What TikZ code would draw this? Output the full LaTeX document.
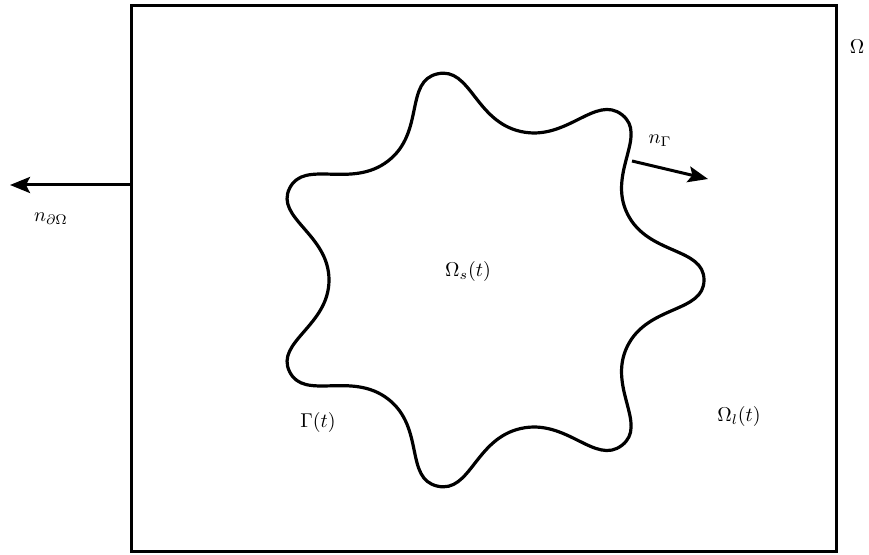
\documentclass[tikz,border=0pt]{standalone}
\usetikzlibrary{arrows.meta}
\begin{document}
\begin{tikzpicture}[x=0.5pt,y=-0.5pt,
  frame/.style={line width=1.5pt},
  iface/.style={line width=1.6pt,line join=round},
  normal/.style={line width=1.5pt,-{Stealth[length=10pt,width=8pt,inset=2pt]}},
  lbl/.style={inner sep=0pt}]
\useasboundingbox (0,0) rectangle (869,555);
\draw[frame] (131,6) rectangle (836,552);
\coordinate (left) at (131,185);
\coordinate (ltip) at (10,185);
\draw[normal] (left) -- (ltip);
\draw[iface,variable=\t,samples=14,domain=0:334.2857]
  plot[smooth cycle,tension=0.9] ({486+(187.5+30.5*cos(7*\t))*cos(\t)},{280-0.97*(187.5+30.5*cos(7*\t))*sin(\t)});
\coordinate (gs) at (632,161);
\coordinate (gtip) at (708,179);
\draw[normal] (gs) -- (gtip);
\node[lbl] (om) at (857,47) {$\Omega$};
\node[lbl] (ndo) at (51,219) {$n_{\partial\Omega}$};
\node[lbl] (ng) at (660,141) {$n_\Gamma$};
\node[lbl] (oms) at (468,272) {$\Omega_s(t)$};
\node[lbl] (gam) at (318,423) {$\Gamma(t)$};
\node[lbl] (oml) at (739,417) {$\Omega_l(t)$};
\end{tikzpicture}
\end{document}
